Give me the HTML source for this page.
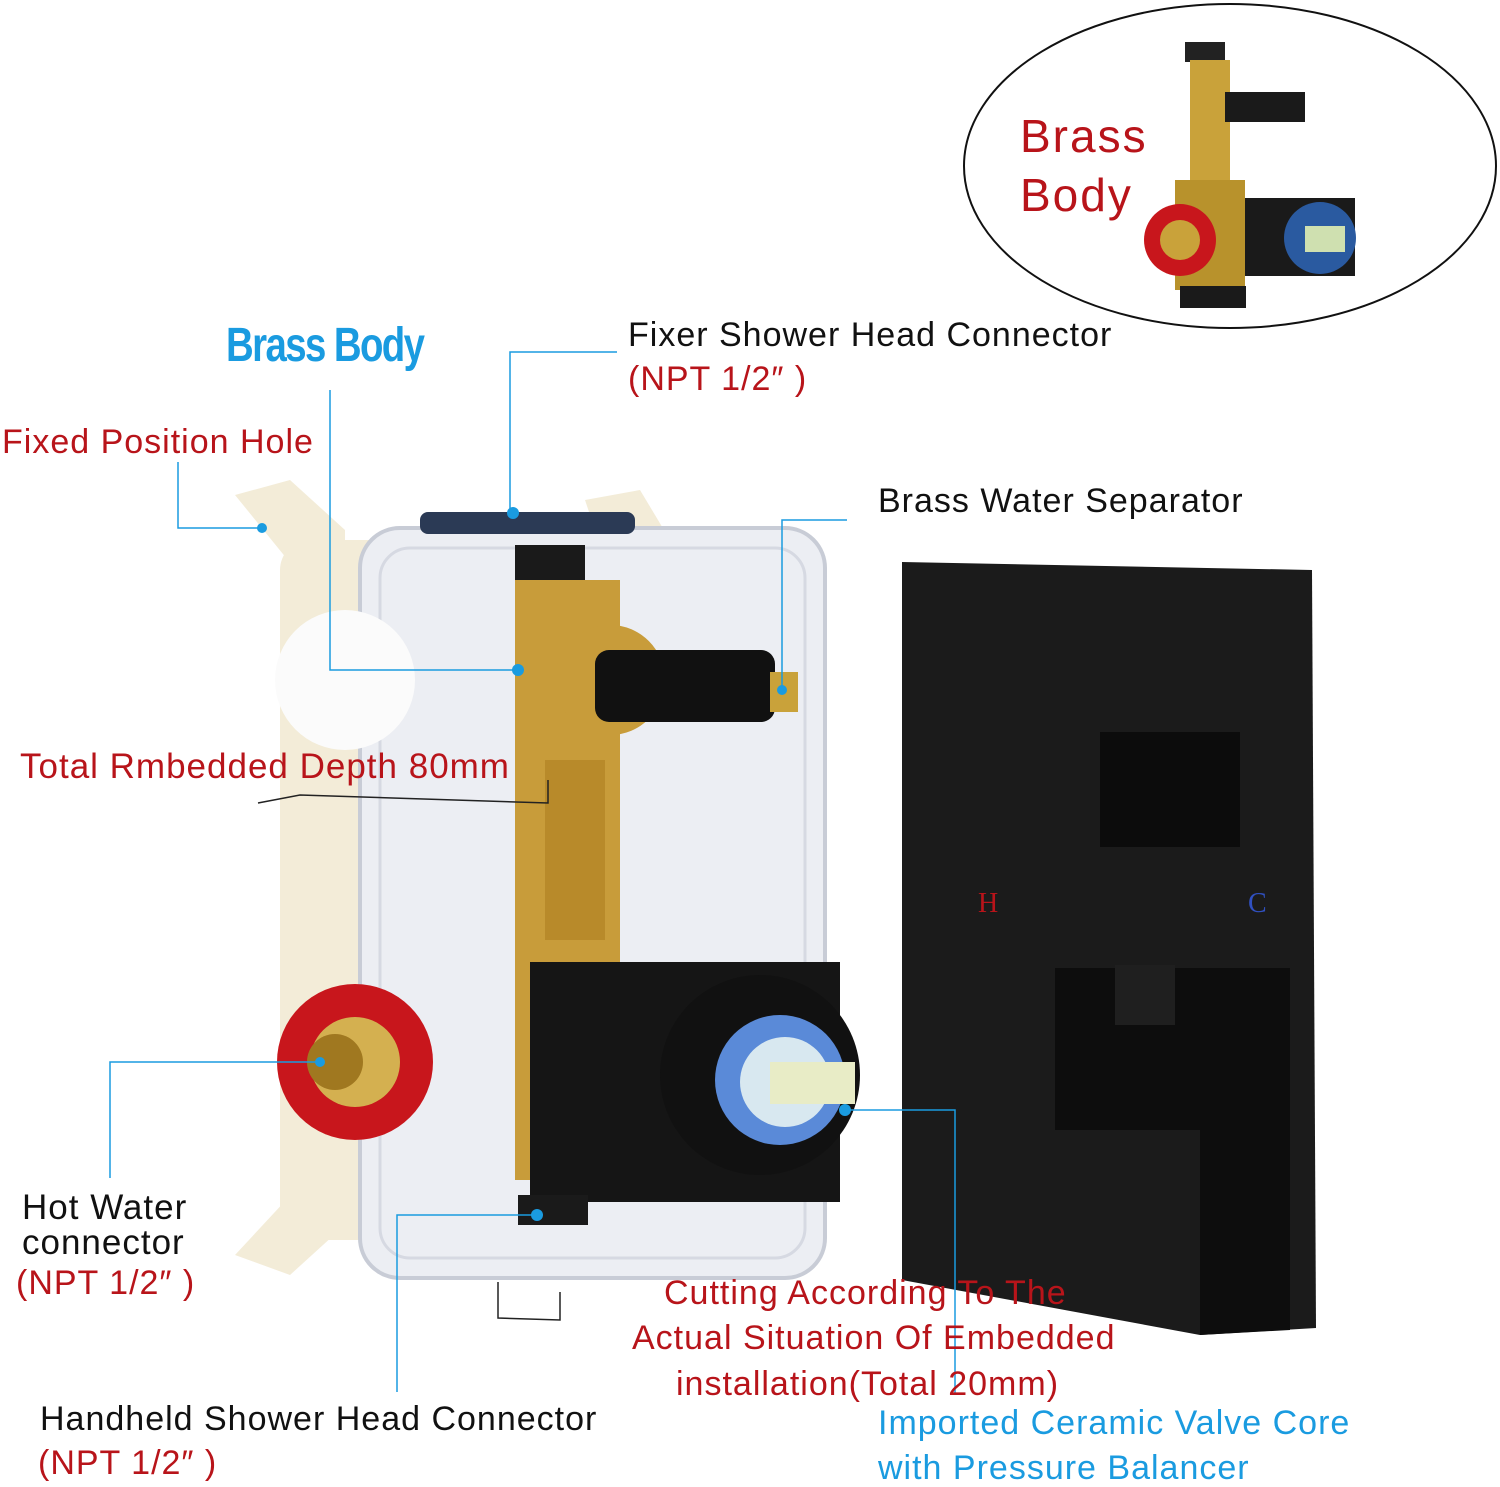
<!DOCTYPE html>
<html><head><meta charset="utf-8"><style>
body{margin:0;width:1500px;height:1484px;background:#fff;position:relative;overflow:hidden;font-family:"Liberation Sans","DejaVu Sans",sans-serif}
.t{position:absolute;white-space:nowrap;font-size:34px;line-height:1;letter-spacing:1px}
.r{color:#b8141a}.k{color:#111}.b{color:#1a9be0}
svg{position:absolute;left:0;top:0}
</style></head><body>
<svg width="1500" height="1484" viewBox="0 0 1500 1484">
<ellipse cx="1230" cy="166" rx="266" ry="162" fill="#fff" stroke="#111" stroke-width="2"/>
<rect x="1185" y="42" width="40" height="20" fill="#222"/>
<rect x="1190" y="60" width="40" height="240" fill="#c9a23a"/>
<rect x="1225" y="92" width="80" height="30" fill="#1a1a1a"/>
<rect x="1175" y="180" width="70" height="110" fill="#b8922c"/>
<rect x="1245" y="198" width="110" height="78" fill="#1a1a1a"/>
<circle cx="1320" cy="238" r="36" fill="#2a5aa0"/>
<rect x="1305" y="226" width="40" height="26" fill="#cfe0b0"/>
<circle cx="1180" cy="240" r="36" fill="#c8161c"/>
<circle cx="1180" cy="240" r="20" fill="#c9a23a"/>
<rect x="1180" y="286" width="66" height="22" fill="#1a1a1a"/>
<polygon points="235,495 290,480 345,530 345,575 300,575" fill="#f3ecd8"/>
<polygon points="585,500 640,490 670,540 600,545" fill="#f3ecd8"/>
<polygon points="235,1255 290,1275 345,1225 345,1185 300,1185" fill="#f3ecd8"/>
<rect x="280" y="540" width="410" height="700" rx="30" fill="#f3ecd8"/>
<rect x="360" y="528" width="465" height="750" rx="40" fill="#eceef3" stroke="#c8ccd6" stroke-width="4"/>
<rect x="380" y="548" width="425" height="710" rx="30" fill="none" stroke="#d6d9e2" stroke-width="3"/>
<rect x="420" y="512" width="215" height="22" rx="8" fill="#2b3a55"/>
<circle cx="345" cy="680" r="70" fill="#fbfbfb"/>
<rect x="515" y="545" width="70" height="40" fill="#1a1a1a"/>
<rect x="515" y="580" width="105" height="600" fill="#c89c3a"/>
<rect x="545" y="760" width="60" height="180" fill="#b88a2a"/>
<circle cx="610" cy="680" r="55" fill="#c89c3a"/>
<rect x="595" y="650" width="180" height="72" rx="14" fill="#111"/>
<rect x="770" y="672" width="28" height="40" fill="#c9a23a"/>
<circle cx="355" cy="1062" r="78" fill="#c8161c"/>
<circle cx="355" cy="1062" r="45" fill="#d4b050"/>
<circle cx="335" cy="1062" r="28" fill="#a07820"/>
<rect x="530" y="962" width="310" height="240" fill="#151515"/>
<circle cx="760" cy="1075" r="100" fill="#111"/>
<circle cx="780" cy="1080" r="65" fill="#5a8ad8"/>
<circle cx="785" cy="1082" r="45" fill="#d8e8f0"/>
<rect x="770" y="1062" width="85" height="42" fill="#e8ecc6"/>
<rect x="518" y="1195" width="70" height="30" fill="#1a1a1a"/>
<polygon points="902,562 1312,570 1316,1328 1200,1335 902,1280" fill="#1b1b1b"/>
<rect x="1100" y="732" width="140" height="115" fill="#0c0c0c"/>
<polygon points="1055,968 1290,968 1290,1330 1200,1335 1200,1130 1055,1130" fill="#0d0d0d"/>
<rect x="1115" y="965" width="60" height="60" fill="#1f1f1f"/>
<g stroke="#1a9be0" stroke-width="1.5" fill="none">
<polyline points="617,352 510,352 510,513"/>
<polyline points="330,390 330,670 518,670"/>
<polyline points="178,462 178,528 262,528"/>
<polyline points="847,520 782,520 782,690"/>
<polyline points="110,1178 110,1062 320,1062"/>
<polyline points="397,1392 397,1215 537,1215"/>
<polyline points="955,1395 955,1110 845,1110"/>
</g>
<g fill="#1a9be0"><circle cx="513" cy="513" r="6"/><circle cx="518" cy="670" r="6"/><circle cx="262" cy="528" r="5"/><circle cx="782" cy="690" r="5"/><circle cx="320" cy="1062" r="5"/><circle cx="537" cy="1215" r="6"/><circle cx="845" cy="1110" r="6"/></g>
<g stroke="#222" stroke-width="1.5" fill="none">
<polyline points="258,803 300,795 548,803 548,780"/>
<polyline points="498,1282 498,1318 560,1320 560,1292"/>
</g>
</svg>
<div class="t r" style="left:1020px;top:113px;font-size:46px;letter-spacing:2px">Brass</div>
<div class="t r" style="left:1020px;top:172px;font-size:46px;letter-spacing:2px">Body</div>
<div class="t b" style="left:226px;top:322px;font-size:48px;font-weight:bold;letter-spacing:-2px;transform:scaleX(0.8);transform-origin:0 0">Brass Body</div>
<div class="t k" style="left:628px;top:318px">Fixer Shower Head Connector</div>
<div class="t r" style="left:628px;top:362px">(NPT 1/2″ )</div>
<div class="t r" style="left:2px;top:425px">Fixed Position Hole</div>
<div class="t k" style="left:878px;top:484px">Brass Water Separator</div>
<div class="t r" style="left:20px;top:749px;font-size:35px">Total Rmbedded Depth 80mm</div>
<div class="t r" style="left:978px;top:890px;font-family:'Liberation Serif',serif;font-size:28px">H</div>
<div class="t b" style="left:1248px;top:890px;font-family:'Liberation Serif',serif;font-size:28px;color:#3050c0">C</div>
<div class="t k" style="left:22px;top:1190px;font-size:35px">Hot Water</div>
<div class="t k" style="left:22px;top:1225px;font-size:35px">connector</div>
<div class="t r" style="left:16px;top:1266px">(NPT 1/2″ )</div>
<div class="t r" style="left:664px;top:1276px">Cutting According To The</div>
<div class="t r" style="left:632px;top:1321px">Actual Situation Of Embedded</div>
<div class="t r" style="left:676px;top:1367px">installation(Total 20mm)</div>
<div class="t k" style="left:40px;top:1402px">Handheld Shower Head Connector</div>
<div class="t r" style="left:38px;top:1446px">(NPT 1/2″ )</div>
<div class="t b" style="left:878px;top:1406px">Imported Ceramic Valve Core</div>
<div class="t b" style="left:878px;top:1451px">with Pressure Balancer</div>
</body></html>
